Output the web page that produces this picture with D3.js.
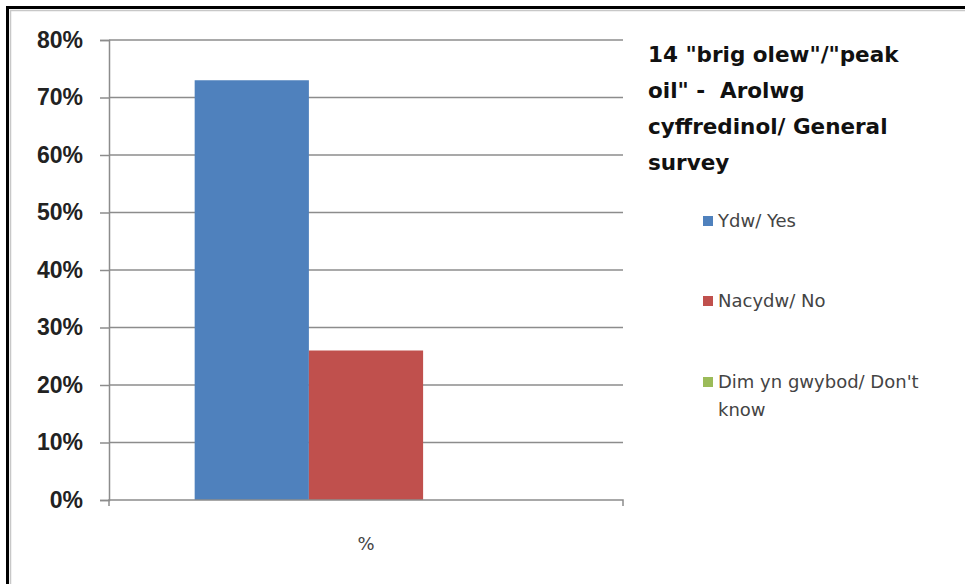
<!DOCTYPE html>
<html>
<head>
<meta charset="utf-8">
<script src="https://cdn.jsdelivr.net/npm/d3@7"></script>
<style>
  html, body { margin: 0; padding: 0; background: #fff; }
  svg { display: block; }
  text { white-space: pre; }
</style>
</head>
<body>
<svg id="chart" width="965" height="584"></svg>
<script>
// ---- data ----
const categories = ["%"];
const seriesNames = ["Ydw/ Yes", "Nacydw/ No", "Dim yn gwybod/ Don't know"];
const seriesValues = [0.73, 0.26, 0];
const seriesColors = ["#4F81BD", "#C0504D", "#9BBB59"];
const yTicks = [0, 0.1, 0.2, 0.3, 0.4, 0.5, 0.6, 0.7, 0.8];
const titleLines = ["14 \"brig olew\"/\"peak", "oil\" -  Arolwg", "cyffredinol/ General", "survey"];
const legendLines = [["Ydw/ Yes"], ["Nacydw/ No"], ["Dim yn gwybod/ Don't", "know"]];

const svg = d3.select("#chart");

// frame
svg.append("rect").attr("x", 0).attr("y", 0).attr("width", 965).attr("height", 584).attr("fill", "#fff");
svg.append("path").attr("d", "M7.5,584 V7.5 H965").attr("fill", "none").attr("stroke", "#000").attr("stroke-width", 3);
svg.append("path").attr("d", "M10.5,584 V10.5 H965").attr("fill", "none").attr("stroke", "#c8c8c8").attr("stroke-width", 1.5);

// scales
const plotLeft = 109, plotRight = 623, plotTop = 40, plotBottom = 500;
const x = d3.scaleBand().domain(categories).range([plotLeft, plotRight]).padding(0);
const xSub = d3.scaleBand().domain(seriesNames).range([0, x.bandwidth()]).paddingInner(0).paddingOuter(0.75);
const y = d3.scaleLinear().domain([0, 0.8]).range([plotBottom, plotTop]);

// gridlines
svg.append("g").selectAll("line").data(yTicks.filter(d => d > 0)).join("line")
  .attr("x1", plotLeft).attr("x2", plotRight)
  .attr("y1", d => y(d)).attr("y2", d => y(d))
  .attr("stroke", "#8c8c8c").attr("stroke-width", 1.5);

// bars
const bars = [];
categories.forEach(c => seriesNames.forEach((s, i) => bars.push({ c, s, v: seriesValues[i], col: seriesColors[i] })));
svg.append("g").selectAll("rect").data(bars).join("rect")
  .attr("x", d => x(d.c) + xSub(d.s))
  .attr("width", xSub.bandwidth())
  .attr("y", d => y(d.v))
  .attr("height", d => y(0) - y(d.v))
  .attr("fill", d => d.col);

// y axis
const yAxis = d3.axisLeft(y).tickValues(yTicks).tickSize(9).tickPadding(17)
  .tickFormat(d3.format(".0%"));
const gy = svg.append("g").attr("transform", `translate(${plotLeft},0)`).call(yAxis);
gy.select(".domain").attr("stroke", "#8c8c8c").attr("stroke-width", 1.5);
gy.selectAll(".tick line").attr("stroke", "#8c8c8c").attr("stroke-width", 1.5);
gy.selectAll(".tick text")
  .attr("font-family", "'Liberation Sans', Arial, sans-serif")
  .attr("font-size", 23).attr("font-weight", "bold").attr("fill", "#222");

// x axis
const xAxis = d3.axisBottom(x).tickSize(0).tickPadding(0);
const gx = svg.append("g").attr("transform", `translate(0,${plotBottom})`).call(xAxis);
gx.select(".domain").attr("stroke", "#8c8c8c").attr("stroke-width", 1.5)
  .attr("d", `M${plotLeft},6 V0 H${plotRight} V6`);
gx.selectAll(".tick text")
  .attr("font-family", "'DejaVu Sans', sans-serif")
  .attr("font-size", 18).attr("fill", "#444")
  .attr("dy", 0).attr("y", 50);

// title
const title = svg.append("text")
  .attr("font-family", "'DejaVu Sans', sans-serif")
  .attr("font-size", 21.5).attr("font-weight", "bold").attr("fill", "#111");
titleLines.forEach((t, i) => {
  title.append("tspan").attr("x", 648).attr("y", 62 + i * 36).text(t);
});

// legend
const legendBase = [227, 307, 388];
const lg = svg.append("g");
legendLines.forEach((lines, i) => {
  lg.append("rect").attr("x", 703).attr("y", legendBase[i] - 11).attr("width", 10).attr("height", 10)
    .attr("fill", seriesColors[i]);
  const t = lg.append("text")
    .attr("font-family", "'DejaVu Sans', sans-serif")
    .attr("font-size", 18).attr("fill", "#444");
  lines.forEach((l, j) => t.append("tspan").attr("x", 718).attr("y", legendBase[i] + j * 28).text(l));
});
</script>
</body>
</html>
